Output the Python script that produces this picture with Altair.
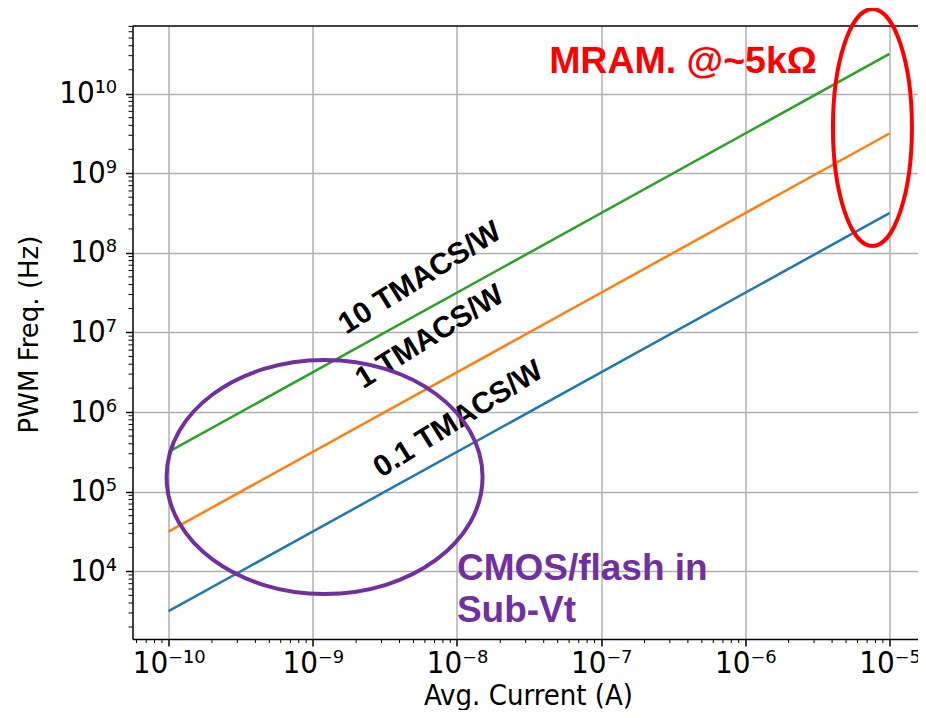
import math
import altair as alt
import pandas as pd

# ---------------- data ----------------
current_A = [1e-10, 1e-5]
freq_01T = [3.16e3, 3.16e8]
freq_1T = [3.16e4, 3.16e9]
freq_10T = [3.16e5, 3.16e10]
series_names = ["0.1 TMACS/W", "1 TMACS/W", "10 TMACS/W"]
series_colors = ["#1f77b4", "#ff7f0e", "#2ca02c"]

x_ticks = [1e-10, 1e-9, 1e-8, 1e-7, 1e-6, 1e-5]
x_tick_labels = ["10⁻¹⁰", "10⁻⁹", "10⁻⁸", "10⁻⁷", "10⁻⁶", "10⁻⁵"]
y_ticks = [1e4, 1e5, 1e6, 1e7, 1e8, 1e9, 1e10]
y_tick_labels = ["10⁴", "10⁵", "10⁶", "10⁷", "10⁸", "10⁹", "10¹⁰"]

# annotation texts and their anchor positions (log10 of data coords)
line_labels = ["10 TMACS/W", "1 TMACS/W", "0.1 TMACS/W"]
line_label_logx = [-8.256, -8.187, -7.99]
line_label_logy = [7.684, 6.943, 5.91]
cmos_lines = ["CMOS/flash in", "Sub-Vt"]
cmos_logx = [-8.0, -8.0]
cmos_logy = [4.028, 3.501]
mram_text = ["MRAM. @~5kΩ"]
mram_logx = [-6.432]
mram_logy = [10.398]

# ---------------- layout ----------------
W, H = 793, 613
X_DOM = [10 ** -10.25, 10 ** -4.75]
Y_DOM = [10 ** 3.15, 10 ** 10.85]
AX_FONT = "DejaVu Sans Condensed, DejaVu Sans"

xs = alt.Scale(type="log", domain=X_DOM, nice=False, zero=False)
ys = alt.Scale(type="log", domain=Y_DOM, nice=False, zero=False)


def label_expr(vals, labels):
    expr = "'" + labels[-1] + "'"
    for v, l in reversed(list(zip(vals[:-1], labels[:-1]))):
        expr = f"datum.value < {v * math.sqrt(10):.4e} ? '{l}' : " + expr
    return expr


common_axis = dict(
    grid=True, gridColor="#b0b0b0", gridWidth=1.5, gridOpacity=1,
    domainColor="black", domainWidth=1.5,
    tickColor="black", tickWidth=1.5, tickSize=7,
    labelFont=AX_FONT, labelFontSize=31, labelColor="black",
    labelFlush=False, labelOverlap=False,
    titleFontWeight="normal", titleColor="black",
)

x_axis = alt.Axis(values=x_ticks, labelExpr=label_expr(x_ticks, x_tick_labels),
                  title="Avg. Current (A)", labelPadding=2,
                  titleFont=AX_FONT, titleFontSize=29,
                  titleX=W / 2 - 1, titleY=65, titleBaseline="alphabetic",
                  **common_axis)
y_axis = alt.Axis(values=y_ticks, labelExpr=label_expr(y_ticks, y_tick_labels),
                  title="PWM Freq. (Hz)", labelPadding=9,
                  titleFont="DejaVu Sans", titleFontSize=26,
                  titleX=-103, titleY=308, titleAngle=270, titleBaseline="middle",
                  titleAlign="center", **common_axis)

rows = []
for name, ys_vals in zip(series_names, [freq_01T, freq_1T, freq_10T]):
    for c, f in zip(current_A, ys_vals):
        rows.append({"I": c, "f": f, "series": name})
lines_df = pd.DataFrame(rows)

lines = alt.Chart(lines_df).mark_line(strokeWidth=2.5).encode(
    x=alt.X("I:Q", scale=xs, axis=x_axis),
    y=alt.Y("f:Q", scale=ys, axis=y_axis),
    color=alt.Color("series:N", scale=alt.Scale(domain=series_names, range=series_colors), legend=None),
)

# minor ticks
x_minor = [k * 10 ** n for n in range(-11, -4) for k in range(2, 10)
           if X_DOM[0] <= k * 10 ** n <= X_DOM[1]]
y_minor = [k * 10 ** n for n in range(3, 11) for k in range(2, 10)
           if Y_DOM[0] <= k * 10 ** n <= Y_DOM[1]]

xminor = alt.Chart(pd.DataFrame({"v": x_minor})).mark_rule(color="black", strokeWidth=1).encode(
    x=alt.X("v:Q", scale=xs), y=alt.value(H), y2=alt.value(H + 4))
yminor = alt.Chart(pd.DataFrame({"v": y_minor})).mark_rule(color="black", strokeWidth=1).encode(
    y=alt.Y("v:Q", scale=ys), x=alt.value(0), x2=alt.value(-4))

top_spine = alt.Chart(pd.DataFrame({"a": [0]})).mark_rule(color="black", strokeWidth=1.5).encode(
    x=alt.value(0), x2=alt.value(W + 2), y=alt.value(0))

# rotated line labels
ll_df = pd.DataFrame({"t": line_labels,
                      "x": [10 ** v for v in line_label_logx],
                      "y": [10 ** v for v in line_label_logy]})
ll = alt.Chart(ll_df).mark_text(angle=328, font="Liberation Sans", fontWeight="bold",
                                fontSize=30, color="black", align="center", baseline="middle").encode(
    x=alt.X("x:Q", scale=xs), y=alt.Y("y:Q", scale=ys), text="t:N")

cm_df = pd.DataFrame({"t": cmos_lines, "x": [10 ** v for v in cmos_logx], "y": [10 ** v for v in cmos_logy]})
cm = alt.Chart(cm_df).mark_text(font="Liberation Sans", fontWeight="bold", fontSize=37,
                                color="#7030a0", align="left", baseline="middle").encode(
    x=alt.X("x:Q", scale=xs), y=alt.Y("y:Q", scale=ys), text="t:N")

mr_df = pd.DataFrame({"t": mram_text, "x": [10 ** v for v in mram_logx], "y": [10 ** v for v in mram_logy]})
mr = alt.Chart(mr_df).mark_text(font="Liberation Sans", fontWeight="bold", fontSize=37.5,
                                color="#ff0000", align="center", baseline="middle").encode(
    x=alt.X("x:Q", scale=xs), y=alt.Y("y:Q", scale=ys), text="t:N")


def ellipse_path(r):
    k = 0.5523
    return (f"M1,0 C1,{k*r:.4f} {k:.4f},{r:.4f} 0,{r:.4f} "
            f"C{-k:.4f},{r:.4f} -1,{k*r:.4f} -1,0 "
            f"C-1,{-k*r:.4f} {-k:.4f},{-r:.4f} 0,{-r:.4f} "
            f"C{k:.4f},{-r:.4f} 1,{-k*r:.4f} 1,0 Z")


def ellipse(logx, logy, wpx, hpx, color):
    df = pd.DataFrame({"x": [10 ** logx], "y": [10 ** logy]})
    return alt.Chart(df).mark_point(shape=ellipse_path(hpx / wpx), size=wpx * wpx, filled=False,
                                    stroke=color, strokeWidth=4, opacity=1).encode(
        x=alt.X("x:Q", scale=xs), y=alt.Y("y:Q", scale=ys))


purple_ell = ellipse(-8.918, 5.185, 316, 234, "#7030a0")
red_ell = ellipse(-5.118, 9.575, 79, 237, "#ff0000")

chart = alt.layer(lines, xminor, yminor, top_spine, ll, cm, mr, purple_ell, red_ell).properties(
    width=W, height=H,
    autosize=alt.AutoSizeParams(type="none"),
    padding={"left": 124.5, "top": 18, "right": -7.5, "bottom": 71},
    background="white",
).configure_view(stroke=None)

chart.save("out.html", embed_options={"renderer": "svg", "actions": False})
